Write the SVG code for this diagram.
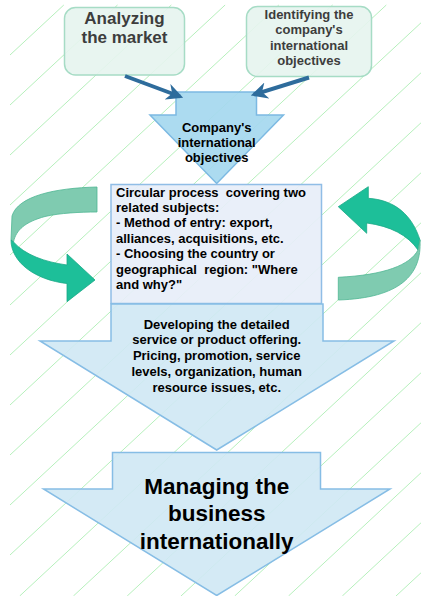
<svg xmlns="http://www.w3.org/2000/svg" width="421" height="596" viewBox="0 0 421 596">
  <defs>
    <style>
      .bg { fill: none; stroke: #b6f0bc; stroke-width: 1; }
      .topbox { fill: #e5f4ee; stroke: #a6dcc5; stroke-width: 1.5; fill-opacity: 0.9; }
      .toptxt { font-family: "Liberation Sans", Arial, sans-serif; font-weight: bold; fill: #3d3d3d; text-anchor: middle; }
      .big17 { font-size: 17px; }
      .sm13 { font-size: 13px; }
      .txt { font-family: "Liberation Sans", Arial, sans-serif; font-weight: bold; fill: #000; font-size: 13px; }
      .huge { font-size: 22.5px; }
      .mid { text-anchor: middle; }
      .a1 { fill: #a5d8ef; stroke: #7cb9e2; stroke-width: 1.5; fill-opacity: 0.92; }
      .a2 { fill: #cfe8f4; stroke: #86bde5; stroke-width: 1.5; fill-opacity: 0.9; }
      .rbox { fill: #e7eef8; stroke: #90bde6; stroke-width: 1.5; fill-opacity: 0.92; }
      .conn { fill: none; stroke: #2e6c9c; stroke-width: 4; }
      .dark { fill: #1dbf99; stroke: #1aa886; stroke-width: 0.8; }
      .light { fill: #7fcbb0; stroke: #4fb693; stroke-width: 0.8; }
    </style>
    <marker id="ah" viewBox="0 0 10 10" refX="8" refY="5" markerWidth="4.2" markerHeight="4.2" orient="auto" markerUnits="strokeWidth">
      <path d="M0,0 L10,5 L0,10 L3,5 Z" fill="#2e6c9c"/>
    </marker>
  </defs>

  <rect x="0" y="0" width="421" height="596" fill="#ffffff"/>

  <g id="background">
    <path class="bg" d="M10,55 L63.8,5 M10,105 L117.5,5 M10,155 L171.3,5 M10,205 L225.1,5 M10,255 L278.8,5 M10,305 L332.6,5 M10,355 L386.3,5 M10,405 L421,22.8 M10,455 L421,72.8 M10,505 L421,122.8 M10,555 L421,172.8 M19.7,596 L421,222.8 M73.4,596 L421,272.8 M127.2,596 L421,322.8 M181,596 L421,372.8 M234.7,596 L421,422.8 M288.5,596 L421,472.8 M342.3,596 L421,522.8 M396,596 L421,572.8"/>
  </g>

  <g id="analyzing-market">
    <rect class="topbox" x="64.5" y="7.5" width="120" height="67.5" rx="11"/>
    <text class="toptxt big17" x="124.5" y="24">Analyzing</text>
    <text class="toptxt big17" x="124.5" y="43">the market</text>
  </g>

  <g id="identifying-objectives">
    <rect class="topbox" x="246.5" y="6.5" width="125" height="70" rx="11"/>
    <text class="toptxt sm13" x="309" y="18.5">Identifying the</text>
    <text class="toptxt sm13" x="309" y="34">company's</text>
    <text class="toptxt sm13" x="309" y="49.5">international</text>
    <text class="toptxt sm13" x="309" y="65">objectives</text>
  </g>

  <g id="company-objectives">
    <path class="a1" d="M176,92 L256.5,92 L256.5,115 L283.5,115 L216.7,183.5 L150,115 L176,115 Z"/>
    <text class="txt mid" x="216.7" y="131.5">Company's</text>
    <text class="txt mid" x="216.7" y="146.5">international</text>
    <text class="txt mid" x="216.7" y="161.5">objectives</text>
  </g>

  <g id="circular-process">
    <rect class="rbox" x="111" y="184.5" width="210.5" height="119"/>
    <text class="txt" x="116" y="196.5" xml:space="preserve">Circular process  covering two</text>
    <text class="txt" x="116" y="211.5">related subjects:</text>
    <text class="txt" x="116" y="227">- Method of entry: export,</text>
    <text class="txt" x="116" y="242.5">alliances, acquisitions, etc.</text>
    <text class="txt" x="116" y="258">- Choosing the country or</text>
    <text class="txt" x="116" y="273.5" xml:space="preserve">geographical  region: "Where</text>
    <text class="txt" x="116" y="289">and why?"</text>
  </g>

  <g id="developing-offering">
    <path class="a2" d="M111,304 L323,304 L323,341 L394,341 L216.7,450 L40,341 L111,341 Z"/>
    <text class="txt mid" x="216.7" y="328.5">Developing the detailed</text>
    <text class="txt mid" x="216.7" y="344">service or product offering.</text>
    <text class="txt mid" x="216.7" y="360">Pricing, promotion, service</text>
    <text class="txt mid" x="216.7" y="375.5">levels, organization, human</text>
    <text class="txt mid" x="216.7" y="391.5">resource issues, etc.</text>
  </g>

  <g id="managing-business">
    <path class="a2" d="M112.5,452.5 L320.5,452.5 L320.5,489 L390,489 L216.7,595.5 L43.5,489 L112.5,489 Z"/>
    <text class="txt mid huge" x="216.7" y="493.5">Managing the</text>
    <text class="txt mid huge" x="216.7" y="521">business</text>
    <text class="txt mid huge" x="216.7" y="548.5">internationally</text>
  </g>

  <g id="connectors">
    <line class="conn" x1="125" y1="76" x2="180" y2="96.5" marker-end="url(#ah)"/>
    <line class="conn" x1="309" y1="77.5" x2="254" y2="94.5" marker-end="url(#ah)"/>
    <g id="cycle-left">
      <path class="light" d="M97,187 C55,188 18,196 12,216 L11,240 L13.5,242 C16,230 25,222 45,216.5 C60,213 80,212 97,212 Z"/>
      <path class="dark" d="M11,240 C11,262 35,280 67,283.5 L67,301.7 L95,280 L67,254 L67,265 C45,262 25,255 13.5,242 Z"/>
    </g>
    <g id="cycle-right">
      <path class="dark" d="M368.3,198.3 C395,200 412,215 420,240 L418,250 C408,235 390,226 366.7,223 L366.7,233.3 L338.3,206.7 L368.3,186.7 Z"/>
      <path class="light" d="M420,240 C422,275 400,298 338.3,300 L338.3,277.3 C385,275 410,265 418,250 Z"/>
    </g>
  </g>
</svg>
